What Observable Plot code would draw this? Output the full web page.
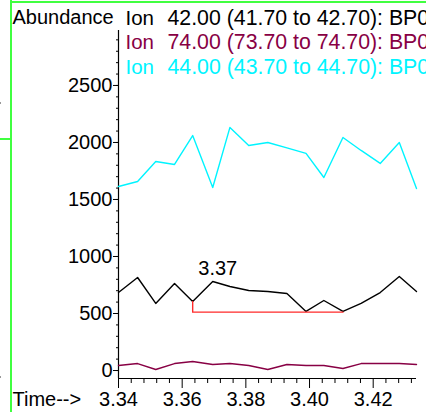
<!DOCTYPE html>
<html><head><meta charset="utf-8">
<script src="https://cdn.jsdelivr.net/npm/d3@7"></script>
<script src="https://cdn.jsdelivr.net/npm/@observablehq/plot@0.6"></script>
<style>
html,body{margin:0;padding:0;background:#fff;overflow:hidden;width:426px;height:412px;}
#wrap{position:relative;width:426px;height:412px;overflow:hidden;}
#wrap svg{position:absolute;left:0;top:0;}
.deco{position:absolute;background:#40ff40;z-index:5;}
.dot{position:absolute;background:#999;z-index:5;width:1px;height:2px;}
</style></head><body><div id="wrap"></div>
<script>
// Scan times (minutes)
const times = [3.3400, 3.3460, 3.3517, 3.3576, 3.3633, 3.3696, 3.3750, 3.3809, 3.3869, 3.3929, 3.3989, 3.4045, 3.4105, 3.4162, 3.4222, 3.4282, 3.4336];
// Abundances per ion trace
const ion42 = [684, 816, 588, 763, 605, 781, 737, 702, 693, 675, 518, 614, 518, 588, 684, 825, 693];
const ion74 = [44, 61, 9, 61, 79, 53, 61, 44, 9, 53, 44, 44, 18, 61, 61, 61, 53];
const ion44 = [1614, 1658, 1833, 1807, 2061, 1605, 2132, 1974, 2000, 1952, 1904, 1693, 2044, 1930, 1816, 2000, 1596];
// Integration baseline of the labelled peak
const peakStartIdx = 4, peakEndIdx = 12, peakIdx = 5;
const baselineLevel = 512;
const peakLabel = "3.37";
// Legend
const legendIons = ["Ion", "Ion", "Ion"];
const legendTexts = ["42.00 (41.70 to 42.70): BP0", "74.00 (73.70 to 74.70): BP0", "44.00 (43.70 to 44.70): BP0"];
const colors = ["#000000", "#880044", "#00f4ff"];
// Axis ticks
const yTicks = [0, 500, 1000, 1500, 2000, 2500];
const yMinor = [0,100,200,300,400,500,600,700,800,900,1000,1100,1200,1300,1400,1500,1600,1700,1800,1900,2000,2100,2200,2300,2400,2500,2600,2700,2800,2900];
const xTicks = [3.34, 3.36, 3.38, 3.40, 3.42];
const xMinor = [3.344, 3.348, 3.352, 3.356, 3.364, 3.368, 3.372, 3.376, 3.384, 3.388, 3.392, 3.396, 3.404, 3.408, 3.412, 3.416, 3.424, 3.428, 3.432];
const yDomain = [-70, 2982];
const xDomain = [3.34, 3.4336];

const series = [ion42, ion74, ion44];
const rows = series.map((vals, s) => times.map((t, i) => ({t, v: vals[i], s})));
const baseline = [
  {t: times[peakStartIdx], v: ion42[peakStartIdx]},
  {t: times[peakStartIdx], v: baselineLevel},
  {t: times[peakEndIdx], v: baselineLevel}
];
const rowDy = [-6, 18.5, 43.5];

const font = "Liberation Sans, Arial, Helvetica, sans-serif";
const plot = Plot.plot({
  width: 426, height: 412,
  marginLeft: 118, marginRight: 10, marginTop: 30, marginBottom: 34,
  style: {fontFamily: font, fontSize: "20px", background: "transparent", color: "#000"},
  x: {domain: xDomain, axis: null},
  y: {domain: yDomain, axis: null},
  marks: [
    Plot.axisY({ticks: yMinor, tickSize: 2, tickFormat: () => "", label: null}),
    Plot.axisY({ticks: yTicks, tickSize: 5, tickPadding: 1, fontSize: 20, label: null, tickFormat: d => String(d)}),
    Plot.axisX({ticks: xMinor, tickSize: 5, tickFormat: () => "", label: null}),
    Plot.axisX({ticks: xTicks, tickSize: 10, tickPadding: 3, fontSize: 20, label: null, tickFormat: d3.format(".2f")}),
    Plot.ruleX([xDomain[0]], {stroke: "#000", strokeWidth: 1.2}),
    Plot.ruleY([yDomain[0]], {stroke: "#000", strokeWidth: 1.2}),
    ...rows.map((r, s) => Plot.line(r, {x: "t", y: "v", stroke: colors[s], strokeWidth: 1.4})),
    Plot.line(baseline, {x: "t", y: "v", stroke: "#ff2a2a", strokeWidth: 1.4}),
    Plot.text([{t: times[peakIdx], v: ion42[peakIdx]}], {x: "t", y: "v", text: () => peakLabel, dx: 5, dy: -6, lineAnchor: "bottom", fontSize: 20, fill: "#000"}),
    Plot.text(["Abundance"], {frameAnchor: "top-left", dx: -106, dy: -7, textAnchor: "start", lineAnchor: "bottom", fontSize: 20, fill: "#000"}),
    ...legendIons.map((ion, i) => Plot.text([ion], {frameAnchor: "top-left", dx: 7, dy: rowDy[i], textAnchor: "start", lineAnchor: "bottom", fontSize: 20.5, fill: colors[i]})),
    ...legendTexts.map((txt, i) => Plot.text([txt], {frameAnchor: "top-left", dx: 49, dy: rowDy[i], textAnchor: "start", lineAnchor: "bottom", fontSize: 21.3, fill: colors[i]})),
    Plot.text(["Time-->"], {frameAnchor: "bottom-left", dx: -106, dy: 27, textAnchor: "start", lineAnchor: "bottom", fontSize: 20, fill: "#000"})
  ]
});
const wrap = document.getElementById("wrap");
wrap.appendChild(plot);
function deco(cls, l, t, w, h) {
  const d = document.createElement("div");
  d.className = cls;
  Object.assign(d.style, {left: l + "px", top: t + "px", width: w + "px", height: h + "px"});
  wrap.appendChild(d);
}
deco("deco", 10, 0, 2, 412);
deco("deco", 10, 1, 416, 2);
deco("deco", 0, 138, 11, 2);
deco("dot", 0, 102, 1, 2);
deco("dot", 0, 376, 1, 2);
</script></body></html>
